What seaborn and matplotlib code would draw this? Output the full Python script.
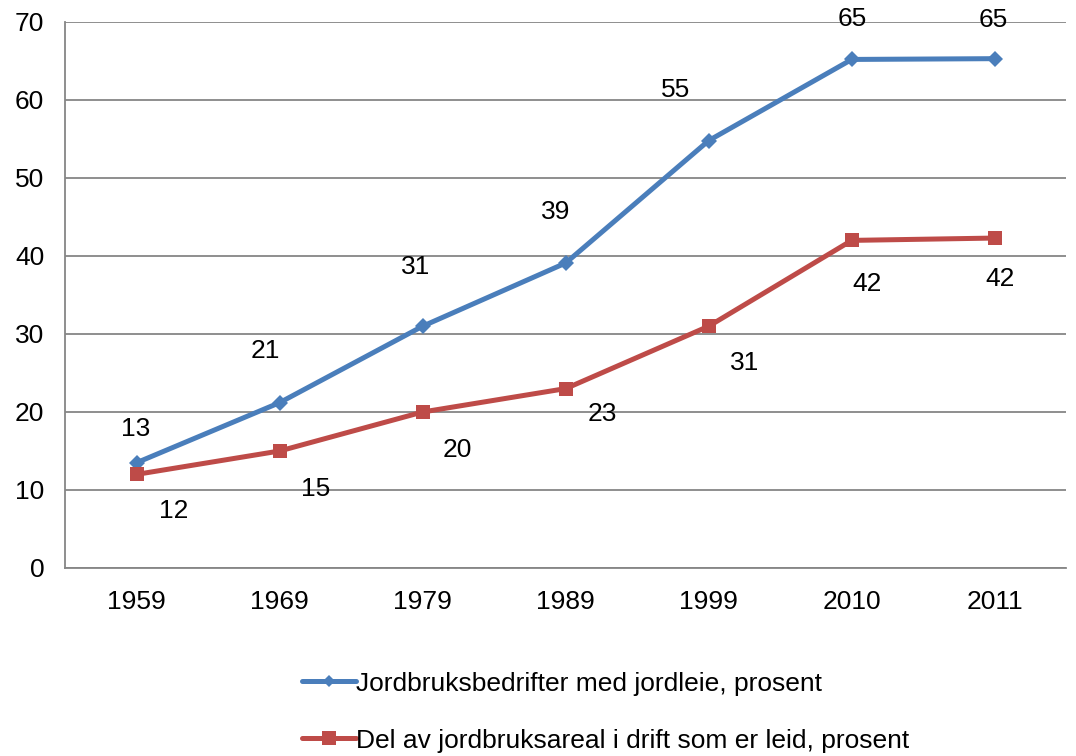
import matplotlib.pyplot as plt
import numpy as np
import pandas as pd
import seaborn as sns

# data
years = ['1959', '1969', '1979', '1989', '1999', '2010', '2011']
bedrifter = [13.5, 21.2, 31.0, 39.1, 54.8, 65.2, 65.3]
areal = [12.0, 15.0, 20.0, 23.0, 31.0, 42.0, 42.3]
labels_bedrifter = ['13', '21', '31', '39', '55', '65', '65']
labels_areal = ['12', '15', '20', '23', '31', '42', '42']

name_b = 'Jordbruksbedrifter med jordleie, prosent'
name_a = 'Del av jordbruksareal i drift som er leid, prosent'

df = pd.DataFrame({
    'aar': years * 2,
    'verdi': bedrifter + areal,
    'serie': [name_b] * len(years) + [name_a] * len(years),
})

sns.set_style('white')
plt.rcParams['font.family'] = ['Liberation Sans', 'DejaVu Sans']
plt.rcParams['text.color'] = 'black'

grey = '#868686'
blue = '#4A7EBB'
red = '#BE4B48'
fs = 19

fig = plt.figure(figsize=(10.76, 7.56), dpi=100)
ax = fig.add_axes([0.0605, 0.2487, 0.9305, 0.7222])

sns.pointplot(data=df, x='aar', y='verdi', hue='serie', order=years,
              palette={name_b: blue, name_a: red}, markers=['D', 's'],
              linestyles=['-', '-'], errorbar=None, ax=ax, legend=False)
for line in ax.lines:
    line.set_linewidth(3.6)
    line.set_markeredgewidth(0)
    line.set_markersize(8 if line.get_marker() == 'D' else 9.5)

# data labels (offsets in pixels, like Excel's manual placement)
off_b = [(-1, 34), (-14, 52), (-7, 59), (-10, 51), (-33, 51), (0, 40), (-2, 39)]
off_a = [(37, -37), (36, -38), (35, -38), (37, -25), (36, -37), (15, -44), (5, -41)]
for i, (lab, v, o) in enumerate(zip(labels_bedrifter, bedrifter, off_b)):
    ax.annotate(lab, (i, v), xytext=o, textcoords='offset pixels',
                ha='center', va='center', fontsize=fs, color='black')
for i, (lab, v, o) in enumerate(zip(labels_areal, areal, off_a)):
    ax.annotate(lab, (i, v), xytext=o, textcoords='offset pixels',
                ha='center', va='center', fontsize=fs, color='black')

ax.set_ylim(0, 70)
ax.set_xlim(-0.5, len(years) - 0.5)
ax.set_yticks(np.arange(0, 71, 10))
ax.yaxis.grid(True, color=grey, linewidth=1.3)
ax.set_axisbelow(True)
ax.set_xlabel('')
ax.set_ylabel('')
for s in ['top', 'right']:
    ax.spines[s].set_visible(False)
for s in ['left', 'bottom']:
    ax.spines[s].set_color(grey)
    ax.spines[s].set_linewidth(1.3)
ax.set_xticks(np.arange(-0.5, len(years)), minor=True)
ax.tick_params(axis='x', which='major', length=0, pad=16, labelsize=fs,
               labelcolor='black')
ax.tick_params(axis='x', which='minor', length=6, width=1.3, color=grey)
ax.tick_params(axis='y', length=5, width=1.3, color=grey, pad=10, labelsize=fs,
               labelcolor='black')

handles = [plt.Line2D([], [], color=blue, lw=3.6, marker='D', ms=6, mew=0),
           plt.Line2D([], [], color=red, lw=3.6, marker='s', ms=10, mew=0)]
fig.legend(handles, [name_b, name_a], loc='center', bbox_to_anchor=(0.563, 0.058),
           frameon=False, fontsize=fs, handlelength=2.05, handletextpad=0.0,
           labelspacing=1.25, borderpad=0.1)

fig.savefig('out.png', dpi=100)
